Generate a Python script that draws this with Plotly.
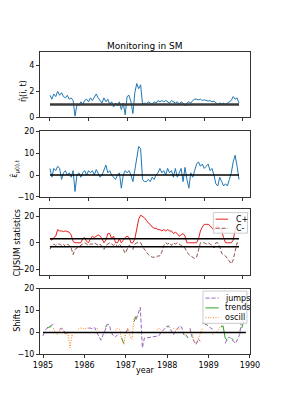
import plotly.graph_objects as go

# ---------------- data ----------------
years = [round(1985 + 0.05 * i, 2) for i in range(99)]

eta_hat = [1.7, 1.4, 1.8, 1.6, 2.0, 1.7, 1.9, 1.6, 1.5, 1.7,
           1.4, 1.5, 1.3, 0.1, 1.0, 0.9, 1.2, 1.0, 1.3, 1.4,
           1.2, 1.5, 1.3, 1.6, 1.8, 1.5, 1.3, 1.1, 1.5, 1.2,
           1.4, 1.0, 1.2, 0.8, 1.1, 0.9, 1.2, 0.6, 1.1, 0.2,
           1.6, 1.7, 1.2, 0.3, 1.9, 2.6, 2.2, 2.5, 1.0, 1.1,
           1.0, 1.2, 1.1, 1.0, 1.2, 1.1, 1.3, 1.2, 1.3, 1.2,
           1.3, 1.2, 1.1, 1.3, 1.2, 1.1, 1.2, 1.0, 1.2, 1.1,
           0.9, 1.1, 1.2, 1.1, 1.3, 1.4, 1.4, 1.35, 1.4, 1.3,
           1.35, 1.3, 1.25, 1.3, 1.2, 1.25, 1.1, 1.0, 1.1, 1.05,
           1.1, 1.0, 1.1, 1.2, 1.3, 1.6, 1.4, 1.5, 1.1]

eps_hat = [3, -1, 3, 2, 4, 3, -2, 1, 2, 0,
           1, -1, 2, -7.5, 0, 1, -1, 1, 2, 0,
           2, 1, 2, 0, 2.5, 1, -1, 0, 2, 4.5,
           1, 2, 0, -1, -2, 0, 1, -6, 0, 2,
           1, 2, 0, -3, 3, 8, 13, 12, -2, -3,
           -3, -2, -3, -1, -2, 0, 1, 3, 1, 2,
           0, 3, 1, 2, -1, 3, -1, 1, 3, -3,
           3.5, -2, -6, 1, -1, 2, 5, 6, 4, 5,
           3, 4, 5, 2, 3, 0, -4, -5, -1, -3,
           -5, -4, -5, -2, 1, 6, 9, 4, -2]

c_plus = [3, 2, 4, 5, 10, 9, 9, 8.5, 9, 8.5,
          8, 6, 1, 0, 0, 0, 0, 3, 4, 1,
          0, 3, 5, 4, 5, 6, 5, 3, 0, 2,
          7, 7, 3, 5, 0, 0, 3, 0, 2, 4,
          5, 4, 0, 0, 3, 11, 18, 21, 20, 19,
          17, 15, 14, 12, 11, 11, 10, 10, 9, 10,
          9, 10, 9, 9, 7, 8, 7, 5, 6, 7,
          5, 0, 0, 0, 0, 0, 0, 3, 9, 12,
          14, 14, 14, 13, 11, 10, 12, 13, 11, 9,
          4, 0, 0, 0, 0, 2, 10, 13, 14]

c_minus = [-5, -2, -1, -2, -1, -1, -2, -1, -3, -1,
           -2, -4, -9, -5, -4, -3, -2, -1, 0, -1,
           -2, -1, -1, 0, -1, -2, -1, -3, -5, -2,
           -1, 0, -1, -2, -1, -3, -1, -3, -5, -8,
           -5, -2, -3, -5, -1, 0, 0, 0, -3, -5,
           -7, -9, -10, -11, -11, -11, -10, -10, -7, -2,
           0, -1, 0, -2, 0, -1, 0, -1, -2, -3,
           -4, -7, -9, -10, -11, -12, -11, -6, 0, 0,
           0, -1, 0, -1, -2, -4, 0, 0, -3, -8,
           -9, -10, -12, -14, -16, -13, -6, 0, -1]

N = None
jumps = [-1.5, 1.0, 2.0, 2.5, 3.0, 3.8, N, N, 1.5, 2.0,
         1.0, -0.5, 0.5, N, N, N, N, N, N, N,
         N, N, 2.0, 2.0, 1.5, 2.2, 0.0, -1.5, -3.5, -1.0,
         1.0, 3.8, 3.5, 0.0, -1.5, -2.0, -1.0, N, N, N,
         0.0, 1.5, 1.0, N, N, 6.0, 9.0, 11.5, -7.0, -2.5,
         -2.5, -2.3, -2.2, -2.0, -2.0, -1.8, -1.5, 0.0, 1.0, 2.0,
         3.0, 2.5, 1.0, -1.0, 0.5, 2.0, 3.0, 2.5, -1.0, -2.0,
         N, 2.0, -2.0, -4.0, -5.5, -3.0, -4.0, N, 4.0, 3.5,
         3.0, 2.0, 1.5, N, N, N, N, N, -5.0, -3.0,
         -2.0, -3.0, -4.0, -5.0, -3.0, -1.0, 6.0, 5.0, 6.0]

trends = [N, N, 2.2, 2.6, 2.7, N, N, N, N, N,
          N, N, N, N, N, N, N, N, N, N,
          N, N, N, N, N, N, N, N, N, N,
          2.5, 3.2, N, N, N, N, N, N, -2.5, -5.0,
          N, N, N, N, 5.0, 7.5, N, N, N, N,
          N, N, N, N, N, N, N, N, N, N,
          2.5, 3.0, N, N, N, N, N, N, N, -1.0,
          -2.5, N, N, N, N, N, N, 4.0, 4.5, 3.5,
          N, N, N, N, N, N, 2.5, 3.0, -2.5, -3.5,
          N, -2.5, -3.5, N, N, N, 2.0, 5.0, N]

oscill = [N, N, N, N, N, 2.0, 0.0, -1.0, 1.0, 1.5,
          0.0, -1.0, 0.0, -7.0, -1.0, -2.0, N, 1.5, 2.0, 2.0,
          1.5, 2.0, 2.0, N, N, N, 2.0, 1.0, N, N,
          N, N, N, N, N, 1.0, 2.0, 1.5, -3.0, -5.5,
          0.0, 2.0, -2.0, -3.0, 7.0, 6.0, N, N, N, N,
          N, N, N, N, N, 1.0, 2.0, 1.0, N, N,
          N, N, N, 2.0, 1.0, 2.0, 1.5, N, -1.0, 0.0,
          N, 1.0, 0.0, -4.0, -5.0, -3.0, 0.0, 2.0, N, N,
          N, N, -1.0, 0.0, 0.5, 2.0, 3.0, 4.0, N, N,
          N, N, N, N, 0.0, 1.0, N, N, N]

eta_ref = 1.0
eps_ref = 0.0
cusum_h = 3.0
shift_ref = 0.0

year_ticks = [1985, 1986, 1987, 1988, 1989, 1990]
year_labels = ["1985", "1986", "1987", "1988", "1989", "1990"]

# ---------------- figure ----------------
W, H = 287, 410
def px(x):
    return x / W
def py(y):
    return 1 - y / H

fig = go.Figure()
span = [years[0], years[-1]]

blue = "#1f77b4"
red = "#e8201c"
brown = "#8c564b"
fig.add_trace(go.Scatter(x=years, y=eta_hat, mode="lines", line=dict(color=blue, width=1), xaxis="x", yaxis="y"))
fig.add_trace(go.Scatter(x=span, y=[eta_ref, eta_ref], mode="lines", line=dict(color="#3a3a3a", width=2.5), xaxis="x", yaxis="y"))

fig.add_trace(go.Scatter(x=years, y=eps_hat, mode="lines", line=dict(color=blue, width=1), xaxis="x2", yaxis="y2"))
fig.add_trace(go.Scatter(x=span, y=[eps_ref, eps_ref], mode="lines", line=dict(color="black", width=1.5), xaxis="x2", yaxis="y2"))

fig.add_trace(go.Scatter(x=years, y=c_plus, mode="lines", name="C+", line=dict(color=red, width=1), xaxis="x3", yaxis="y3"))
fig.add_trace(go.Scatter(x=years, y=c_minus, mode="lines", name="C-", line=dict(color=brown, width=1, dash="4px,2px"), xaxis="x3", yaxis="y3"))
fig.add_trace(go.Scatter(x=span, y=[cusum_h, cusum_h], mode="lines", line=dict(color="black", width=1.5), xaxis="x3", yaxis="y3"))
fig.add_trace(go.Scatter(x=span, y=[-cusum_h, -cusum_h], mode="lines", line=dict(color="black", width=1.5), xaxis="x3", yaxis="y3"))

fig.add_trace(go.Scatter(x=years, y=jumps, mode="lines", name="jumps", line=dict(color="#9467bd", width=1, dash="4px,2px"), xaxis="x4", yaxis="y4"))
fig.add_trace(go.Scatter(x=years, y=trends, mode="lines", name="trends", line=dict(color="#2ca02c", width=1), xaxis="x4", yaxis="y4"))
fig.add_trace(go.Scatter(x=years, y=oscill, mode="lines", name="oscill", line=dict(color="#ff7f0e", width=1, dash="1px,1.5px"), xaxis="x4", yaxis="y4"))
fig.add_trace(go.Scatter(x=span, y=[shift_ref, shift_ref], mode="lines", line=dict(color="black", width=1.5), xaxis="x4", yaxis="y4"))

xdom = [px(35), px(258.3)]
common = dict(showline=True, mirror=True, linecolor="#333", linewidth=1, ticks="outside",
              ticklen=3, tickcolor="#333", showgrid=False, zeroline=False,
              tickfont=dict(size=8, color="black"))

fig.update_layout(
    width=W, height=H, margin=dict(l=0, r=0, t=0, b=0),
    plot_bgcolor="white", paper_bgcolor="white", showlegend=False,
    font=dict(family="DejaVu Sans", size=8, color="black"),
    xaxis=dict(domain=xdom, anchor="y", range=[1984.74, 1990.185], tickvals=year_ticks, showticklabels=False, **common),
    xaxis2=dict(domain=xdom, anchor="y2", range=[1984.74, 1990.185], tickvals=year_ticks, showticklabels=False, **common),
    xaxis3=dict(domain=xdom, anchor="y3", range=[1984.74, 1990.185], tickvals=year_ticks, showticklabels=False, **common),
    xaxis4=dict(domain=xdom, anchor="y4", range=[1984.925, 1990], tickvals=year_ticks, ticktext=year_labels, **common),
    yaxis=dict(domain=[py(116), py(49.3)], anchor="x", range=[0, 5], tickvals=[0, 2, 4], **common),
    yaxis2=dict(domain=[py(197.3), py(130)], anchor="x2", range=[-10, 20], tickvals=[-10, 0, 10, 20], **common),
    yaxis3=dict(domain=[py(277.3), py(210)], anchor="x3", range=[-24.7, 25.4], tickvals=[-20, 0, 20], **common),
    yaxis4=dict(domain=[py(358.3), py(291)], anchor="x4", range=[-10, 20], tickvals=[-10, 0, 10, 20], **common),
)

ann = []
def txt(x, y, s, size=8, angle=0, xanchor="center"):
    ann.append(dict(x=px(x), y=py(y), xref="paper", yref="paper", text=s, showarrow=False,
                    font=dict(size=size, color="black"), textangle=angle, xanchor=xanchor, yanchor="middle"))

txt(146.7, 43, "Monitoring in SM", size=9)
txt(17, 89, "η̂(i, t)", angle=-90)
txt(9, 168, "ε̂<sub>μ(i),t</sub>", angle=-90)
txt(11.5, 244, "CUSUM statistics", angle=-90)
txt(11.5, 324, "Shifts", angle=-90)
txt(146.7, 374.5, "year")

shapes = []
def box(x0, y0, x1, y1):
    shapes.append(dict(type="rect", xref="paper", yref="paper", x0=px(x0), x1=px(x1), y0=py(y1), y1=py(y0),
                       fillcolor="rgba(255,255,255,0.8)", line=dict(color="#cccccc", width=1)))
def sample(x0, x1, y, color, dash="solid"):
    shapes.append(dict(type="line", xref="paper", yref="paper", x0=px(x0), x1=px(x1), y0=py(y), y1=py(y),
                       line=dict(color=color, width=1, dash=dash)))

box(219.3, 213.3, 255.7, 234.3)
sample(221.7, 235, 220, red)
sample(221.7, 235, 229.3, brown, "4px,2px")
txt(241.5, 220, "C+", xanchor="left")
txt(241.5, 229.3, "C-", xanchor="left")

box(208.3, 293.5, 255, 326.5)
sample(211, 225, 300.7, "#9467bd", "4px,2px")
sample(211, 225, 310.7, "#2ca02c")
sample(211, 225, 320.7, "#ff7f0e", "1px,1.5px")
txt(230, 300.7, "jumps", xanchor="left")
txt(230, 310.7, "trends", xanchor="left")
txt(230, 320.7, "oscill", xanchor="left")

fig.update_layout(annotations=ann, shapes=shapes)
post = ("var s=document.documentElement.style;s.margin='0';s.padding='0';s.overflow='hidden';s.height='410px';"
        "var b=document.body.style;b.margin='0';b.padding='0';b.overflow='hidden';b.height='410px';")
fig.write_html("out.html", config={"displayModeBar": False}, post_script=post)
